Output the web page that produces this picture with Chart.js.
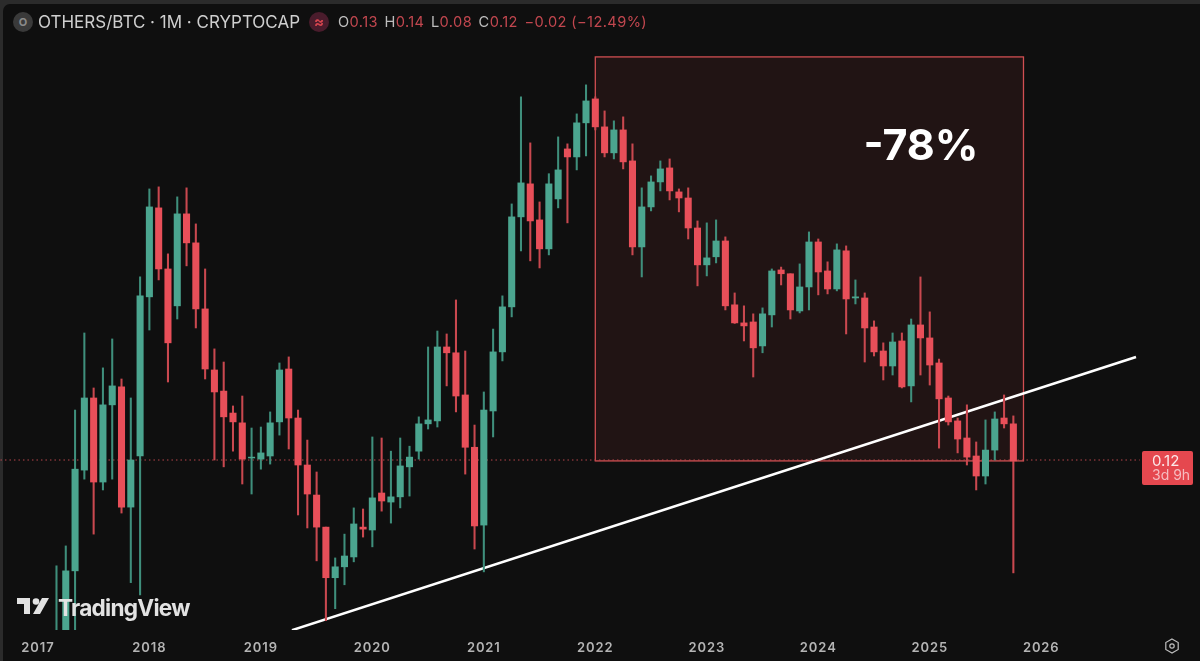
<!DOCTYPE html>
<html>
<head>
<meta charset="utf-8">
<title>OTHERS/BTC</title>
<script src="https://cdn.jsdelivr.net/npm/chart.js@4"></script>
<style>
  html, body { margin: 0; padding: 0; background: #2b2b2b; overflow: hidden; }
  #panel { position: absolute; left: 3px; top: 4px; width: 1197px; height: 657px; background: #0f0f0f; border-top-left-radius: 7px; }
  canvas { position: absolute; left: 0; top: 0; }
  .head { position: absolute; top: 13px; height: 18px; line-height: 18px; white-space: nowrap; font-family: Inter, sans-serif; }
  #sym { left: 38px; font-size: 17px; color: #cfcfcf; }
  #ohlc { left: 338px; font-size: 14.6px; letter-spacing: .4px; color: #bdbdbd; }
  #ohlc b { font-weight: 400; color: #c2474f; margin-right: 2px; }
  .icon { position: absolute; top: 12px; width: 20px; height: 20px; border-radius: 50%; text-align: center; line-height: 20px; font: 700 11px/20px Inter, sans-serif; }
  #logoText { position: absolute; left: 58px; top: 593px; font: 700 22.6px/30px Inter, sans-serif; letter-spacing: -0.75px; color: #e2e2e2; }
  svg { position: absolute; left: 0; top: 0; }
</style>
</head>
<body>
<div id="panel"></div>
<canvas id="chart" width="1200" height="661"></canvas>
<div class="icon" style="left:13px;background:#3a3a3a;color:#8a8a8a">O</div>
<div class="head" id="sym">OTHERS/BTC · 1M · CRYPTOCAP</div>
<div class="icon" style="left:309px;background:#4a1c2c;color:#d5454e;font-size:15px">≈</div>
<div class="head" id="ohlc">O<b>0.13</b> H<b>0.14</b> L<b>0.08</b> C<b>0.12</b> <b>−0.02 (−12.49%)</b></div>
<svg width="1200" height="661">
  <path d="M17 598h13v16h-6v-10h-7z M42 598h7l-9 16h-7z" fill="#e2e2e2"/>
  <circle cx="36" cy="601.5" r="3.3" fill="#e2e2e2"/>
  <path d="M1172 639l6.2 3.5v7l-6.2 3.5-6.2-3.5v-7z" fill="none" stroke="#bdbdbd" stroke-width="1.2"/>
  <circle cx="1172" cy="646" r="2.2" fill="none" stroke="#bdbdbd" stroke-width="1.2"/>
</svg>
<div id="logoText">TradingView</div>
<script>
// monthly candles, first entry is Jan 2017 (Jan and Feb are below the visible range)
const opens = [
  null,null,.0594,.0616,.0796,.1156,.1510,.1106,.1472,.1573,.1008,.1218,
  .2196,.3053,.2435,.2124,.2986,.2682,.2100,.1675,.1549,.1428,.1377,.1209,
  .1204,.1218,.1382,.1681,.1402,.1178,.1054,.0936,.0776,.0808,.0838,.0936,
  .0926,.1062,.1027,.1047,.1170,.1240,.1372,.1387,.1824,.1785,.1527,.1258,
  .0943,.1439,.1791,.2116,.2953,.3337,.2920,.2623,.3156,.3798,.3687,.4183,
  .4571,.4121,.3743,.4075,.3633,.2642,.3064,.3361,.3540,.3239,.3167,.2834,
  .2472,.2547,.2701,.2132,.1994,.2001,.1831,.2054,.2426,.2392,.2084,.2278,
  .2691,.2417,.2261,.2604,.2187,.2187,.1964,.1797,.1700,.1865,.1579,.1979,
  .1886,.1719,.1510,.1387,.1302,.1218,.1131,.1245,.1402,.1372
];
const highs = [
  null,null,.0811,.0873,.1444,.1921,.1567,.1688,.1879,.1620,.1510,.2364,
  .3275,.3300,.2575,.3180,.3288,.2877,.2435,.1811,.1725,.1466,.1521,.1351,
  .1356,.1434,.1719,.1758,.1444,.1292,.1148,.0936,.0835,.0912,.1005,.1001,
  .1307,.1302,.1240,.1302,.1263,.1408,.1824,.1935,.1914,.2171,.1797,.1366,
  .1544,.1949,.2204,.3098,.4606,.3884,.3121,.3465,.3971,.3870,.4324,.4815,
  .4606,.4372,.4214,.4277,.3870,.3288,.3437,.3633,.3660,.3275,.3288,.2909,
  .2888,.2920,.2742,.2228,.2124,.2062,.2108,.2435,.2452,.2392,.2481,.2793,
  .2721,.2500,.2672,.2652,.2338,.2228,.2009,.1852,.1921,.1921,.2023,.2364,
  .2077,.1744,.1521,.1402,.1472,.1283,.1392,.1434,.1527,.1413
];
const lows = [
  null,null,.0572,.0594,.0616,.1118,.0912,.1074,.1118,.0986,.0762,.0728,
  .1942,.2338,.1602,.2023,.2463,.1957,.1620,.1200,.1170,.1240,.1098,.1058,
  .1160,.1182,.1316,.1250,.0979,.0933,.0826,.0662,.0692,.0756,.0823,.0902,
  .0870,.0993,.0950,.1005,.1050,.1204,.1346,.1356,.1579,.1434,.1139,.0863,
  .0793,.1307,.1732,.2039,.2603,.2509,.2444,.2565,.3053,.2888,.3514,.3701,
  .4075,.3687,.3660,.3527,.2565,.2364,.3019,.3251,.3144,.3008,.2721,.2287,
  .2373,.2490,.2092,.1990,.1865,.1632,.1785,.1964,.2295,.2023,.2069,.2092,
  .2212,.2220,.2245,.1914,.2139,.1725,.1764,.1614,.1644,.1567,.1488,.1644,
  .1584,.1254,.1366,.1232,.1178,.1074,.1098,.1200,.1351,.0790
];
const closes = [
  null,null,.0616,.0796,.1160,.1510,.1106,.1472,.1579,.1008,.1200,.2204,
  .3064,.2435,.1852,.2986,.2682,.2100,.1681,.1544,.1408,.1382,.1204,.1213,
  .1232,.1377,.1675,.1402,.1178,.1058,.0936,.0776,.0808,.0841,.0947,.0929,
  .1043,.1031,.1047,.1174,.1213,.1372,.1392,.1824,.1785,.1521,.1258,.0940,
  .1444,.1791,.2116,.2953,.3349,.2909,.2623,.3337,.3514,.3687,.4183,.4537,
  .4121,.3743,.4075,.3620,.2642,.3064,.3361,.3527,.3251,.3167,.2834,.2472,
  .2537,.2701,.2124,.1994,.1972,.1818,.2062,.2417,.2392,.2092,.2278,.2691,
  .2408,.2261,.2613,.2179,.2196,.1957,.1791,.1700,.1858,.1573,.1979,.1886,
  .1706,.1505,.1382,.1297,.1213,.1131,.1245,.1397,.1372,.1196
];

const yearLabels = ['2017','2018','2019','2020','2021','2022','2023','2024','2025','2026'];
const yearMonths = [0,12,24,36,48,60,72,84,96,108];

// trend line, x is months since Jan 2017
const trendX = [27.35, 118.2];
const trendY = [.0639, .1757];

// drawdown box
const boxX = [60, 106.09];
const boxY = [.5340, .1196];
const lastPrice = .12;

const green = '#4ba58f';
const red = '#e84f59';
const wickGreen = '#3f8f7c';
const wickRed = '#c9484f';

const candles = opens.map((o, i) => ({ o, h: highs[i], l: lows[i], c: closes[i], i })).filter(d => d.o !== null);
const candleColor = d => d.c >= d.o ? green : red;

const behindCandles = {
  id: 'behindCandles',
  beforeDraw(chart) {
    chart.ctx.letterSpacing = '0.9px';
  },
  beforeDatasetsDraw(chart) {
    const { ctx, scales } = chart;
    const x1 = scales.x.getPixelForValue(boxX[0]);
    const x2 = scales.x.getPixelForValue(boxX[1]);
    const y1 = scales.y.getPixelForValue(boxY[0]);
    const y2 = scales.y.getPixelForValue(boxY[1]);
    ctx.save();
    ctx.fillStyle = '#211414';
    ctx.fillRect(x1, y1, x2 - x1, y2 - y1);
    ctx.strokeStyle = '#d04f52';
    ctx.lineWidth = 1.3;
    ctx.strokeRect(x1, y1, x2 - x1, y2 - y1);
    ctx.restore();
  }
};

const labels = {
  id: 'labels',
  afterDraw(chart) {
    const { ctx, scales } = chart;
    const py = scales.y.getPixelForValue(lastPrice);
    ctx.save();
    ctx.letterSpacing = '0px';
    // -78% text
    ctx.fillStyle = '#ffffff';
    ctx.font = '700 43px Inter';
    ctx.textAlign = 'center';
    ctx.textBaseline = 'middle';
    ctx.fillText('-78%', 921, 147);
    // price tag
    ctx.fillStyle = '#e5484f';
    ctx.beginPath();
    ctx.roundRect(1142, py - 9, 51, 34, 2);
    ctx.fill();
    ctx.textAlign = 'left';
    ctx.font = '15px Inter';
    ctx.fillStyle = '#fbe9ea';
    ctx.fillText('0.12', 1152, py + 1);
    ctx.font = '14px Inter';
    ctx.fillStyle = '#f6bcc0';
    ctx.fillText('3d 9h', 1152, py + 16);
    ctx.restore();
  }
};

const canvas = document.getElementById('chart');
new Chart(canvas, {
  type: 'bar',
  data: {
    datasets: [
      {
        data: candles.map(d => ({ x: d.i, y: [d.o, d.c] })),
        backgroundColor: candles.map(candleColor),
        barThickness: 6.4,
        order: 0
      },
      {
        data: candles.map(d => ({ x: d.i, y: [d.l, d.h] })),
        backgroundColor: candles.map(d => d.c >= d.o ? wickGreen : wickRed),
        barThickness: 1.4,
        order: 1
      },
      {
        type: 'line',
        data: [{ x: trendX[0], y: trendY[0] }, { x: trendX[1], y: trendY[1] }],
        borderColor: '#ffffff',
        borderWidth: 2.6,
        pointRadius: 0,
        order: 2
      },
      {
        type: 'line',
        data: [{ x: -5, y: lastPrice }, { x: 118.6, y: lastPrice }],
        borderColor: '#b8474d',
        borderWidth: 1,
        borderDash: [1.5, 3],
        pointRadius: 0,
        order: 3
      }
    ]
  },
  options: {
    responsive: false,
    animation: false,
    layout: { padding: 0 },
    datasets: { bar: { grouped: false } },
    plugins: { legend: { display: false }, tooltip: { enabled: false } },
    scales: {
      x: {
        type: 'linear',
        offset: false,
        min: -4.08,
        max: 125.09,
        grid: { display: false },
        border: { display: false },
        afterBuildTicks: axis => { axis.ticks = yearMonths.map(value => ({ value })); },
        afterFit: axis => { axis.height = 31; },
        ticks: {
          autoSkip: false,
          maxRotation: 0,
          padding: 2,
          color: '#b4b4b4',
          font: { family: 'Inter', size: 13, weight: '600' },
          callback: value => yearLabels[yearMonths.indexOf(value)]
        }
      },
      y: {
        type: 'logarithmic',
        display: false,
        bounds: 'data',
        min: .06394,
        max: .6593
      }
    }
  },
  plugins: [behindCandles, labels]
});
</script>
</body>
</html>
